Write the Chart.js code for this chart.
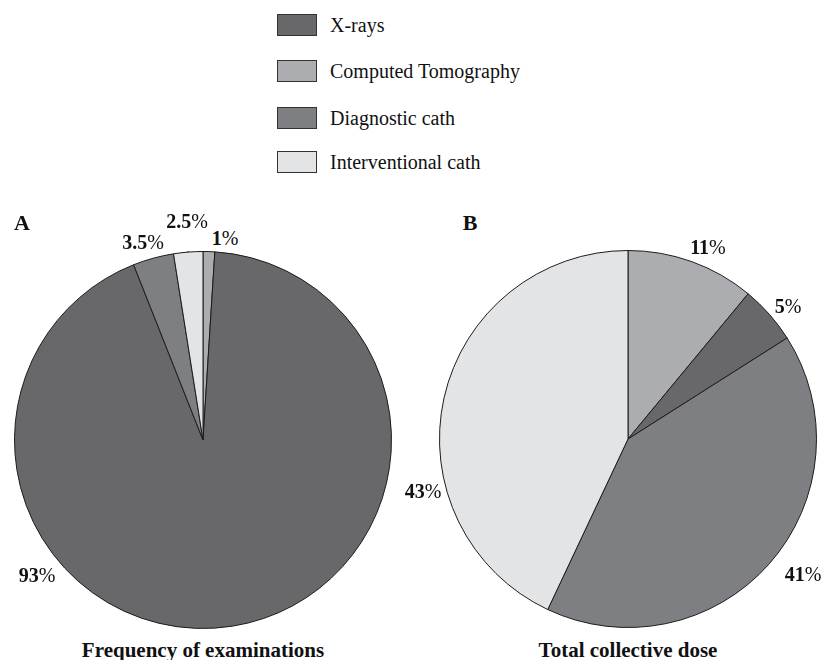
<!DOCTYPE html>
<html>
<head>
<meta charset="utf-8">
<script src="https://cdn.jsdelivr.net/npm/chart.js@4/dist/chart.umd.min.js"></script>
<style>
  html, body { margin: 0; padding: 0; background: #fff; }
  body { width: 824px; height: 660px; position: relative; overflow: hidden; font-family: "Liberation Serif", "DejaVu Serif", serif; color: #111; }
  .abs { position: absolute; white-space: nowrap; line-height: 20px; transform: translate(-50%, -50%); }
  .pct { font-size: 20px; }
  .pct b { font-weight: bold; }
  .panel { font-size: 22px; font-weight: bold; }
  .title { font-size: 21px; font-weight: bold; }
  .legrow { position: absolute; left: 277px; height: 22px; }
  .legbox { position: absolute; left: 0; top: 0; width: 38px; height: 20px; border: 1px solid #333; }
  .legtxt { position: absolute; left: 53px; top: 1px; font-size: 20px; line-height: 20px; white-space: nowrap; }
  canvas { position: absolute; }
</style>
</head>
<body>
<canvas id="pieA" width="378" height="378" style="left:14px; top:251px;"></canvas>
<canvas id="pieB" width="378" height="378" style="left:439px; top:250px;"></canvas>
<div id="overlay"></div>
<script>
// ---- data ----
const legendLabels = ['X-rays', 'Computed Tomography', 'Diagnostic cath', 'Interventional cath'];
const legendColors = ['#68686a', '#acadb0', '#7e7f83', '#e3e4e6'];
// slice order, clockwise from 12 o'clock
const sliceLabels = ['Computed Tomography', 'X-rays', 'Diagnostic cath', 'Interventional cath'];
const frequencyValues = [1, 93, 3.5, 2.5];
const doseValues = [11, 5, 41, 43];
const frequencyText = ['1', '93', '3.5', '2.5'];
const doseText = ['11', '5', '41', '43'];
const panelTitles = ['Frequency of examinations', 'Total collective dose'];
const panelLetters = ['A', 'B'];

const colorOf = l => legendColors[legendLabels.indexOf(l)];
const sliceColors = sliceLabels.map(colorOf);

// leader line from the Interventional slice in panel A
const leaderPlugin = {
  id: 'leader',
  afterDatasetsDraw(chart) {
    const meta = chart.getDatasetMeta(0);
    const arc = meta.data[3];
    const mid = (arc.startAngle + arc.endAngle) / 2;
    const r1 = arc.outerRadius, r2 = arc.outerRadius + 18;
    const ctx = chart.ctx;
    ctx.save();
    ctx.strokeStyle = '#111';
    ctx.lineWidth = 1;
    ctx.beginPath();
    ctx.moveTo(arc.x + Math.cos(mid) * r1, arc.y + Math.sin(mid) * r1);
    ctx.lineTo(arc.x + Math.cos(mid) * r2, arc.y + Math.sin(mid) * r2);
    ctx.stroke();
    ctx.restore();
  }
};

function makePie(id, values, plugins) {
  return new Chart(document.getElementById(id), {
    type: 'pie',
    data: {
      labels: sliceLabels,
      datasets: [{
        data: values,
        backgroundColor: sliceColors,
        borderColor: '#1c1c1c',
        borderWidth: 1
      }]
    },
    options: {
      responsive: false,
      maintainAspectRatio: false,
      animation: false,
      devicePixelRatio: 1,
      layout: { padding: 0 },
      plugins: { legend: { display: false }, tooltip: { enabled: false } }
    },
    plugins: plugins || []
  });
}

makePie('pieA', frequencyValues, [leaderPlugin]);
makePie('pieB', doseValues);

// ---- text overlay ----
const ov = document.getElementById('overlay');
function addText(cls, html, x, y) {
  const d = document.createElement('div');
  d.className = 'abs ' + cls;
  d.innerHTML = html;
  d.style.left = x + 'px';
  d.style.top = y + 'px';
  ov.appendChild(d);
}

// legend
const legendTops = [14, 60, 107, 151];
legendLabels.forEach((l, i) => {
  const row = document.createElement('div');
  row.className = 'legrow';
  row.style.top = legendTops[i] + 'px';
  const box = document.createElement('div');
  box.className = 'legbox';
  box.style.background = legendColors[i];
  const t = document.createElement('div');
  t.className = 'legtxt';
  t.textContent = l;
  row.appendChild(box); row.appendChild(t);
  ov.appendChild(row);
});

// percentage labels (slice order)
const freqLabelPos = [[225, 238], [37, 575], [143, 242], [187, 221]];
const doseLabelPos = [[708, 247], [788, 306], [803, 574], [423, 491]];
frequencyText.forEach((t, i) => addText('pct', '<b>' + t + '</b>%', freqLabelPos[i][0], freqLabelPos[i][1]));
doseText.forEach((t, i) => addText('pct', '<b>' + t + '</b>%', doseLabelPos[i][0], doseLabelPos[i][1]));

addText('panel', panelLetters[0], 22, 223);
addText('panel', panelLetters[1], 470, 223);
addText('title', panelTitles[0], 203, 650);
addText('title', panelTitles[1], 628, 650);
</script>
</body>
</html>
